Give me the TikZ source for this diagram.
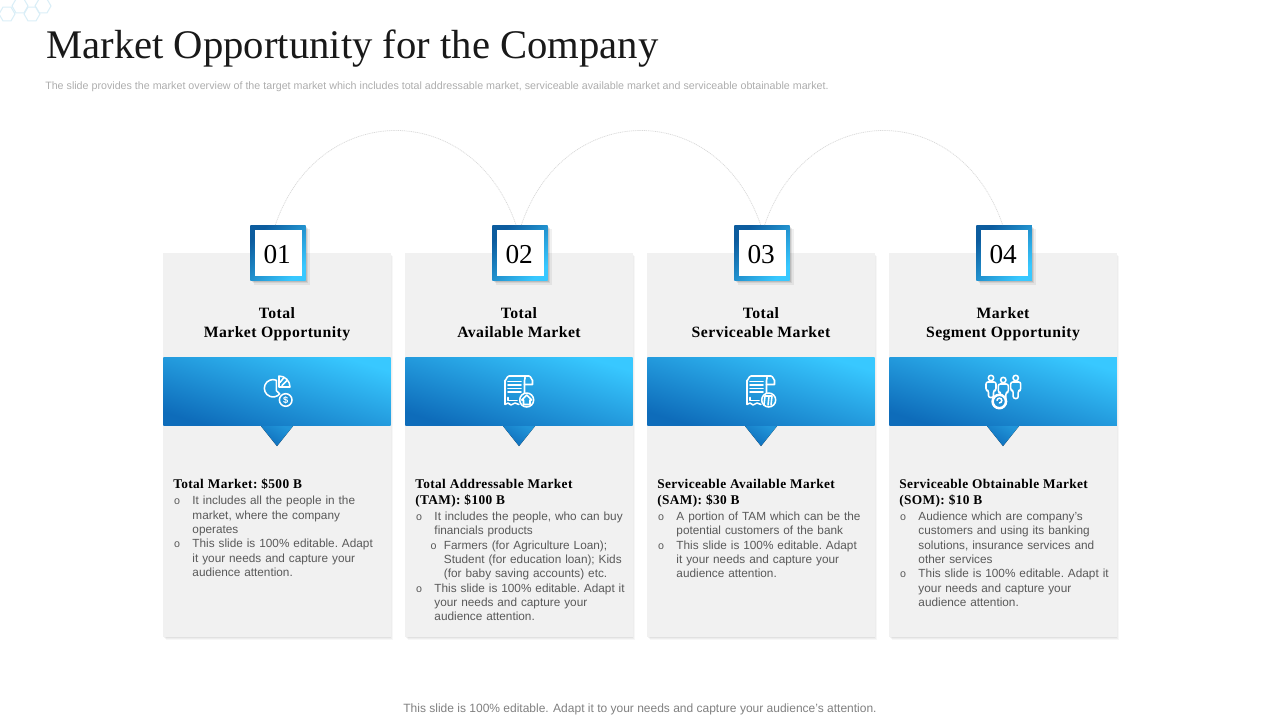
\documentclass[tikz,border=0pt]{standalone}
\usepackage{fontspec}
\setmainfont{Liberation Serif}
\setsansfont{Liberation Sans}
\newfontfamily\headserif[LetterSpace=2.8]{Liberation Serif}
\usetikzlibrary{shapes.geometric,shadows}
\definecolor{cardgray}{HTML}{F1F1F1}
\definecolor{bluedark}{HTML}{0E6CBA}
\definecolor{bluelight}{HTML}{38C8FF}
\definecolor{bodygray}{HTML}{595959}
\definecolor{hexblue}{HTML}{DAEEF7}
\newcommand{\bulmark}{{\fontsize{8}{8}\selectfont\hspace{.6pt}o}}
\newcommand{\bodyhead}[1]{{\fontsize{10}{12}\selectfont\headserif\bfseries\color{black}\noindent #1\par}\vspace{1.2pt}}
\newcommand{\bodyitem}[1]{{\hangindent=14.4pt\hangafter=1\noindent\makebox[14.4pt][l]{\bulmark}#1\par}}
\newcommand{\bodysub}[1]{{\leftskip=11pt\hangindent=10.5pt\hangafter=1\noindent\makebox[10.5pt][l]{\bulmark}#1\par}}
\newcommand{\numtext}[1]{\raisebox{-7.6pt}[0pt][0pt]{\hspace*{-2pt}#1}}
\tikzset{
  cardbox/.style={anchor=north west,inner sep=0,minimum width=170.6pt,minimum height=288pt,fill=cardgray,
    drop shadow={shadow xshift=1.8pt,shadow yshift=-1.8pt,fill=black,opacity=.03},
    drop shadow={shadow xshift=1.1pt,shadow yshift=-1.1pt,fill=black,opacity=.04},
    drop shadow={shadow xshift=.5pt,shadow yshift=-.5pt,fill=black,opacity=.05}},
  bandbox/.style={anchor=north west,inner sep=0,minimum width=170.6pt,minimum height=51.4pt,
    bottom color=bluedark,top color=bluelight,shading angle=-17},
  numbox/.style={inner sep=0,minimum size=41.6pt,bottom color=bluedark!85!black,top color=bluelight,shading angle=-135,
    drop shadow={shadow xshift=3pt,shadow yshift=-3pt,fill=black,opacity=.06},
    drop shadow={shadow xshift=2pt,shadow yshift=-2pt,fill=black,opacity=.08},
    drop shadow={shadow xshift=1pt,shadow yshift=-1pt,fill=black,opacity=.1}},
  numin/.style={inner sep=0,minimum width=35pt,minimum height=34.5pt,fill=white,font=\fontsize{20.5}{24}\selectfont},
  tiparrow/.style={bottom color=bluedark,top color=bluedark!55!bluelight,shading angle=-30},
  headtext/.style={align=center,font=\fontsize{11.8}{14.25}\selectfont\headserif\bfseries,execute at end node=\strut},
  bodytext/.style={anchor=north west,inner sep=0,text width=168pt,text=bodygray,font=\fontsize{8.85}{10.75}\selectfont\sffamily\frenchspacing},
  hexcell/.style={regular polygon,regular polygon sides=6,inner sep=0,minimum size=12pt,draw=hexblue,line width=.8pt},
  arcline/.style={draw=black!15,dash pattern=on .8pt off .6pt,line width=.55pt},
  iconline/.style={draw=white,line width=1.15pt,line cap=round,line join=round},
  pieicon/.pic={
    \draw[iconline] (-.7,-11.3) arc[start angle=-68,end angle=-320,radius=8.7] -- (-.7,-.8) -- cycle;
    \draw[iconline] (2,-4.5) -- (2,-15.5) arc[start angle=-90,end angle=0,radius=11] -- cycle;
    \draw[iconline] (3,-9) -- (7,-14);
    \draw[iconline] (5,-6) -- (10,-11);
    \draw[iconline,fill=bluedark!60!bluelight] (8.7,8.5) circle (6.3);
    \node[text=white,inner sep=0,font=\fontsize{7}{7}\selectfont\sffamily\bfseries] at (8.7,8.5) {\$};
  },
  docicon/.pic={
    \draw[iconline] (-14,-11) -- (-14,13) -- (-11,11.5) -- (-8,13.5) -- (-4,11.5) -- (0,13);
    \draw[iconline] (-14,-11) to[out=-90,in=180] (-10,-15.5) -- (10,-15.5) to[out=0,in=-90] (13.5,-11.5) -- (13.5,-7) -- (5.5,-7);
    \draw[iconline] (5.5,-15.5) to[out=-20,in=90] (5.5,-11) -- (5.5,4);
    \draw[iconline] (-11,-10) -- (2,-10);
    \draw[iconline] (-11,-6.5) -- (2,-6.5);
    \draw[iconline] (-11,-3) -- (2,-3);
    \draw[iconline] (-11,.5) -- (2,.5);
    \draw[iconline] (-11,6) -- (-11,9) -- (-2,9);
    \draw[iconline,fill=bluedark!40!bluelight] (7.7,8.5) circle (7);
  },
  peopleicon/.pic={
    \draw[iconline] (-12,-13.5) circle (2.7);
    \draw[iconline] (.3,-11.5) circle (2.7);
    \draw[iconline] (12.7,-13.5) circle (2.7);
    \draw[iconline,rounded corners=1.5pt] (-17,-1) -- (-17,-9.5) -- (-7,-9.5) -- (-7,-1) -- (-9.5,-1) -- (-9.5,6) -- (-14.5,6) -- (-14.5,-1) -- cycle;
    \draw[iconline,rounded corners=1.5pt] (-4.7,1) -- (-4.7,-7.5) -- (5.3,-7.5) -- (5.3,1) -- (2.8,1) -- (2.8,8) -- (-2.2,8) -- (-2.2,1) -- cycle;
    \draw[iconline,rounded corners=1.5pt] (7.7,-1) -- (7.7,-9.5) -- (17.7,-9.5) -- (17.7,-1) -- (15.2,-1) -- (15.2,7) -- (10.2,7) -- (10.2,-1) -- cycle;
    \draw[draw=white,line width=1.9pt,fill=bluedark!60!bluelight] (-3.7,10) circle (6.7);
    \draw[iconline] (-6,9) arc[start angle=180,end angle=450,radius=2.4];
  }
}
\begin{document}
\begin{tikzpicture}[x=.75pt,y=-.75pt]
    \useasboundingbox (0,0) rectangle (1280,720);
    % corner pattern
    \node[hexcell] (hex1) at (7,14) {};
    \node[hexcell] (hex2) at (20,6) {};
    \node[hexcell] (hex3) at (32,14) {};
    \node[hexcell] (hex4) at (43,6) {};
    % header
    \node[anchor=base west,inner sep=0,text=black!90,font=\fontsize{30.5}{34}\selectfont] (title) at (46,59) {Market Opportunity for the Company};
    \node[anchor=base west,inner sep=0,text=black!32,font=\fontsize{8.02}{9}\selectfont\sffamily] (subtitle) at (45,90) {The slide provides the market overview of the target market which includes total addressable market, serviceable available market and serviceable obtainable market.};
    % cards
    \node[cardbox] (card1) at (163,253) {};
    \node[cardbox] (card2) at (405,253) {};
    \node[cardbox] (card3) at (647,253) {};
    \node[cardbox] (card4) at (889,253) {};
    \node[bandbox] (band1) at (163,357) {};
    \node[bandbox] (band2) at (405,357) {};
    \node[bandbox] (band3) at (647,357) {};
    \node[bandbox] (band4) at (889,357) {};
    \fill[tiparrow] ([xshift=-12pt]band1.south) -- ([xshift=12pt]band1.south) -- ([yshift=-15pt]band1.south) -- cycle;
    \fill[tiparrow] ([xshift=-12pt]band2.south) -- ([xshift=12pt]band2.south) -- ([yshift=-15pt]band2.south) -- cycle;
    \fill[tiparrow] ([xshift=-12pt]band3.south) -- ([xshift=12pt]band3.south) -- ([yshift=-15pt]band3.south) -- cycle;
    \fill[tiparrow] ([xshift=-12pt]band4.south) -- ([xshift=12pt]band4.south) -- ([yshift=-15pt]band4.south) -- cycle;
    % numbers
    \node[numbox] (num1) at (278,253) {};
    \node[numbox] (num2) at (520,253) {};
    \node[numbox] (num3) at (762,253) {};
    \node[numbox] (num4) at (1004,253) {};
    \node[numin] (label1) at (278.5,253) {\numtext{01}};
    \node[numin] (label2) at (520.5,253) {\numtext{02}};
    \node[numin] (label3) at (762.5,253) {\numtext{03}};
    \node[numin] (label4) at (1004.5,253) {\numtext{04}};
    % arcs
    \draw[arcline] ([xshift=-2pt]num1.north) .. controls +(43,-126) and +(-43,-126) .. ([xshift=-3pt]num2.north);
    \draw[arcline] ([xshift=1pt]num2.north) .. controls +(43,-126) and +(-43,-126) .. ([xshift=-1pt]num3.north);
    \draw[arcline] ([xshift=2pt]num3.north) .. controls +(43,-126) and +(-43,-126) .. ([xshift=-1pt]num4.north);
    % headings
    \node[headtext] (head1) at (277,325.5) {Total\\Market Opportunity};
    \node[headtext] (head2) at (519,325.5) {Total\\Available Market};
    \node[headtext] (head3) at (761,325.5) {Total\\Serviceable Market};
    \node[headtext] (head4) at (1003,325.5) {Market\\Segment Opportunity};
    % icons
    \pic at (277,391.5) {pieicon};
    \pic at (519,391.5) {docicon};
    \draw[iconline] (526.7,395) -- (521.7,400) -- (523.5,400) -- (523.5,404.5) -- (530,404.5) -- (530,400) -- (531.7,400) -- cycle;
    \pic at (761,391.5) {docicon};
    \draw[iconline] (765,396) -- (764,405);
    \draw[iconline] (769,396) -- (768,405);
    \draw[iconline] (765,396) -- (772,396) -- (771,405);
    \pic at (1003,391.5) {peopleicon};
    % body text
    \node[bodytext] (body1) at (173,479) {\bodyhead{Total Market: \$500 B}
      \bodyitem{It includes all the people in the\newline market, where the company\newline operates}
      \bodyitem{This slide is 100\% editable. Adapt\newline it your needs and capture your\newline audience attention.}};
    \node[bodytext] (body2) at (415,479) {\bodyhead{Total Addressable Market\newline (TAM): \$100 B}
      \bodyitem{It includes the people, who can buy\newline financials products}
      \bodysub{Farmers (for Agriculture Loan);\newline Student (for education loan); Kids\newline (for baby saving accounts) etc.}
      \bodyitem{This slide is 100\% editable. Adapt it\newline your needs and capture your\newline audience attention.}};
    \node[bodytext] (body3) at (657,479) {\bodyhead{Serviceable Available Market\newline (SAM): \$30 B}
      \bodyitem{A portion of TAM which can be the\newline potential customers of the bank}
      \bodyitem{This slide is 100\% editable. Adapt\newline it your needs and capture your\newline audience attention.}};
    \node[bodytext] (body4) at (899,479) {\bodyhead{Serviceable Obtainable Market\newline (SOM): \$10 B}
      \bodyitem{Audience which are company's\newline customers and using its banking\newline solutions, insurance services and\newline other services}
      \bodyitem{This slide is 100\% editable. Adapt it\newline your needs and capture your\newline audience attention.}};
    % footer
    \node[anchor=base,inner sep=0,text=black!50,font=\fontsize{9}{11}\selectfont\sffamily] (footer) at (640,712) {This slide is 100\% editable. Adapt it to your needs and capture your audience's attention.};
\end{tikzpicture}
\end{document}
